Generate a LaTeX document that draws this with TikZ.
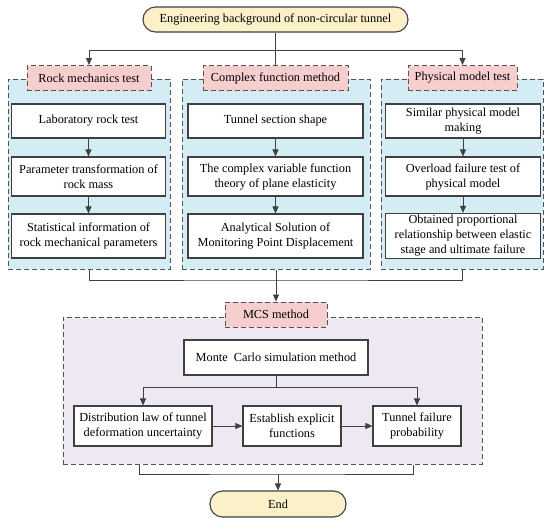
\documentclass[tikz,border=0pt]{standalone}
\usepackage{fontspec}
\setmainfont{Liberation Serif}
\usetikzlibrary{arrows.meta, positioning, calc}
\usepackage{xcolor}
\definecolor{cyellow}{RGB}{252,240,200}
\definecolor{cpink}{RGB}{246,206,206}
\definecolor{cblue}{RGB}{212,236,243}
\definecolor{clav}{RGB}{237,232,242}
\definecolor{cline}{RGB}{64,64,64}

\begin{document}
\begin{tikzpicture}[x=1pt,y=-1pt,
  every node/.style={font=\fontsize{12.3}{15}\selectfont,align=center,inner sep=2pt},
  term/.style={draw=cline,line width=1.1pt,fill=cyellow,rounded corners=12.5pt,minimum height=25pt},
  panel/.style={draw=cline!90,line width=1pt,dash pattern=on 5pt off 3pt},
  tag/.style={draw=cline!90,line width=1pt,dash pattern=on 5pt off 3pt,fill=cpink,minimum height=25pt},
  box/.style={draw=cline,line width=1.1pt,fill=white},
  arr/.style={-{Triangle[length=7pt,width=6pt]},cline,line width=0.9pt},
  ln/.style={cline,line width=0.9pt}
]
\useasboundingbox (0,0) rectangle (550,523);
\node[term,minimum width=265pt] (top) at (275.5,19.5) {Engineering background of non-circular tunnel};

% three panels
\node[panel,fill=cblue,minimum width=162pt,minimum height=190pt] (pA) at (89,174) {};
\node[panel,fill=cblue,minimum width=188pt,minimum height=190pt] (pB) at (276,174) {};
\node[panel,fill=cblue,minimum width=162pt,minimum height=190pt] (pC) at (462,174) {};
\node[tag,minimum width=124pt] (rmt) at (89,78) {Rock mechanics test};
\node[tag,minimum width=145pt] (cfm) at (275.5,78) {Complex function method};
\node[tag,minimum width=109pt] (pmt) at (462.5,78) {Physical model test};

\node[box,minimum width=154pt,minimum height=34pt] (a1) at (88.5,121) {Laboratory rock test};
\node[box,minimum width=154pt,minimum height=39pt] (a2) at (88.5,176.5) {Parameter transformation of\\rock mass};
\node[box,minimum width=154pt,minimum height=44pt] (a3) at (88.5,236) {Statistical information of\\rock mechanical parameters};
\node[box,minimum width=175pt,minimum height=34pt] (b1) at (275.5,121) {Tunnel section shape};
\node[box,minimum width=175pt,minimum height=39pt] (b2) at (275.5,176.5) {The complex variable function\\theory of plane elasticity};
\node[box,minimum width=175pt,minimum height=44pt] (b3) at (275.5,236) {Analytical Solution of\\Monitoring Point Displacement};
\node[box,minimum width=155pt,minimum height=34pt] (c1) at (463,121) {Similar physical model\\making};
\node[box,minimum width=155pt,minimum height=39pt] (c2) at (463,176.5) {Overload failure test of\\physical model};
\node[box,minimum width=155pt,minimum height=45pt] (c3) at (463,236) {Obtained proportional\\relationship between elastic\\stage and ultimate failure};

\coordinate (j1) at (275.5,50);
\draw[ln] (top) -- (cfm);
\draw[arr] (j1) -| (rmt);
\draw[arr] (j1) -| (pmt);
\draw[arr] (a1) -- (a2); \draw[arr] (a2) -- (a3);
\draw[arr] (b1) -- (b2); \draw[arr] (b2) -- (b3);
\draw[arr] (c1) -- (c2); \draw[arr] (c2) -- (c3);

% MCS part
\node[panel,fill=clav,minimum width=419pt,minimum height=147pt] (pM) at (272.5,390.5) {};
\node[tag,minimum width=102pt] (mcs) at (276,314.5) {MCS method};
\node[box,minimum width=184pt,minimum height=35pt] (mc) at (276,357.5) {Monte\ \ Carlo simulation method};
\node[box,minimum width=138pt,minimum height=40pt] (dl) at (143,426) {Distribution law of tunnel\\deformation uncertainty};
\node[box,minimum width=98pt,minimum height=40pt] (es) at (292,426) {Establish explicit\\functions};
\node[box,minimum width=88pt,minimum height=40pt] (tf) at (417,426) {Tunnel failure\\probability};

\coordinate (j2) at (276,280);
\draw[ln] (pA) |- (j2) -| (pC);
\draw[arr] (pB) -- (mcs);
\coordinate (j3) at (276,387);
\draw[ln] (mc) -- (j3);
\draw[arr] (j3) -| (dl);
\draw[arr] (j3) -| (tf);
\draw[arr] (dl) -- (es);
\draw[arr] (es) -- (tf);

\node[term,minimum width=136pt,minimum height=26pt] (end) at (278,504) {End};
\coordinate (j4) at (278,474);
\draw[ln] ($(pM.south -| dl)+(-4,0)$) |- (j4) -| ($(pM.south -| tf)+(-4,0)$);
\draw[arr] (j4) -- (end);
\end{tikzpicture}
\end{document}
